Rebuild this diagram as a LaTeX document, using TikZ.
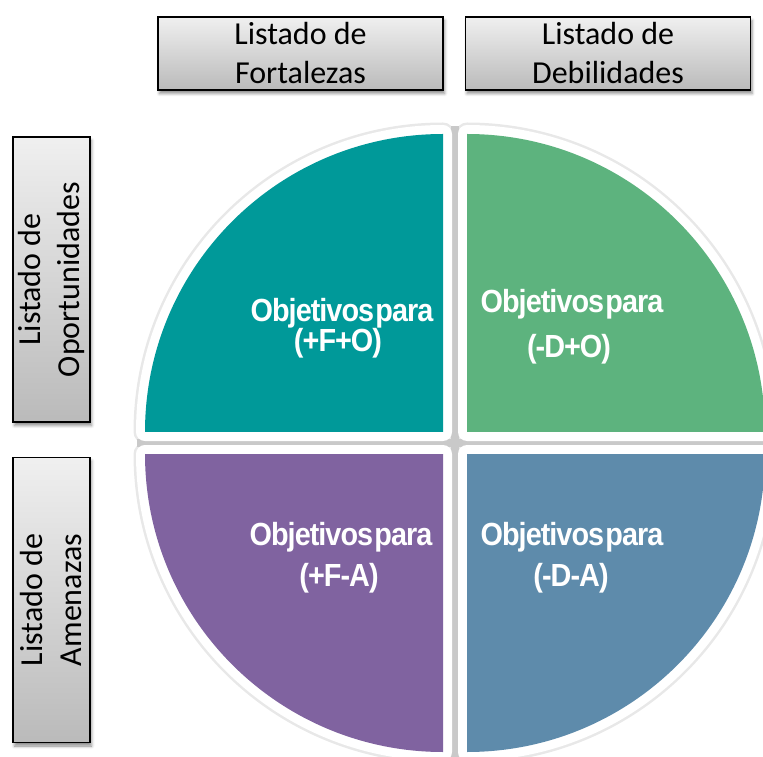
\documentclass[tikz,border=0pt]{standalone}
\usepackage{fontspec}
\setmainfont{Carlito}
\newfontfamily\objfont[FakeStretch=0.9,LetterSpace=-3]{Liberation Sans}
\usetikzlibrary{shadows.blur}
\definecolor{qteal}{RGB}{0,153,153}
\definecolor{qgreen}{RGB}{93,179,126}
\definecolor{qpurple}{RGB}{128,99,160}
\definecolor{qblue}{RGB}{94,139,171}
\begin{document}
\begin{tikzpicture}[x=1pt,y=1pt,
  listbox/.style={draw=black, line width=1.3pt, top color=black!6, bottom color=black!27,
    minimum width=285pt, minimum height=73pt, inner sep=0pt, align=center,
    font=\fontsize{32}{39}\selectfont,
    blur shadow={shadow xshift=1.5pt, shadow yshift=-3.5pt, shadow blur radius=3pt, shadow opacity=45}},
  quadshadow/.style={draw=black!9, fill=black!9, line width=23pt, line join=round},
  quadborder/.style={draw=white, fill=white, line width=18pt, line join=round},
  gapline/.style={fill=black!21},
  objtext/.style={text=white, font=\objfont\bfseries\fontsize{32}{32}\selectfont, anchor=base, inner sep=0pt}]

\useasboundingbox (0,0) rectangle (763,756);

% header boxes
\node[listbox] (fort) at (300.5,702.5) {Listado de\\Fortalezas};
\node[listbox] (deb) at (608,702.5) {Listado de\\Debilidades};
% side boxes
\node[listbox, rotate=90, minimum height=77pt] (opo) at (51.5,476.5) {Listado de\\Oportunidades};
\node[listbox, rotate=90, minimum height=77pt] (ame) at (51.5,156) {Listado de\\Amenazas};

% quadrant shadows and gaps
\path[quadshadow] (443,324) -- (145,324) arc[start angle=180, end angle=90, radius=298] -- cycle;
\path[quadshadow] (467,324) -- (467,622) arc[start angle=90, end angle=0, radius=298] -- cycle;
\path[quadshadow] (443,302) -- (443,4) arc[start angle=270, end angle=180, radius=298] -- cycle;
\path[quadshadow] (467,302) -- (765,302) arc[start angle=0, end angle=-90, radius=298] -- cycle;
\path[gapline] (451,-10) rectangle (459,630);
\path[gapline] (137,309) rectangle (770,317);
% white borders
\path[quadborder] (443,324) -- (145,324) arc[start angle=180, end angle=90, radius=298] -- cycle;
\path[quadborder] (467,324) -- (467,622) arc[start angle=90, end angle=0, radius=298] -- cycle;
\path[quadborder] (443,302) -- (443,4) arc[start angle=270, end angle=180, radius=298] -- cycle;
\path[quadborder] (467,302) -- (765,302) arc[start angle=0, end angle=-90, radius=298] -- cycle;
% coloured quadrants
\fill[qteal] (443,324) -- (145,324) arc[start angle=180, end angle=90, radius=298] -- cycle;
\fill[qgreen] (467,324) -- (467,622) arc[start angle=90, end angle=0, radius=298] -- cycle;
\fill[qpurple] (443,302) -- (443,4) arc[start angle=270, end angle=180, radius=298] -- cycle;
\fill[qblue] (467,302) -- (765,302) arc[start angle=0, end angle=-90, radius=298] -- cycle;

% texts
\node[objtext] (fo1) at (342,434) {Objetivos\hspace{-0.18em} para};
\node[objtext] (fo2) at (338,404) {(+F+O)};
\node[objtext] (do1) at (572,443) {Objetivos\hspace{-0.18em} para};
\node[objtext] (do2) at (569,398) {(-D+O)};
\node[objtext] (fa1) at (341,211) {Objetivos\hspace{-0.18em} para};
\node[objtext] (fa2) at (339,170) {(+F-A)};
\node[objtext] (da1) at (572,211) {Objetivos\hspace{-0.18em} para};
\node[objtext] (da2) at (571,170) {(-D-A)};
\end{tikzpicture}
\end{document}
